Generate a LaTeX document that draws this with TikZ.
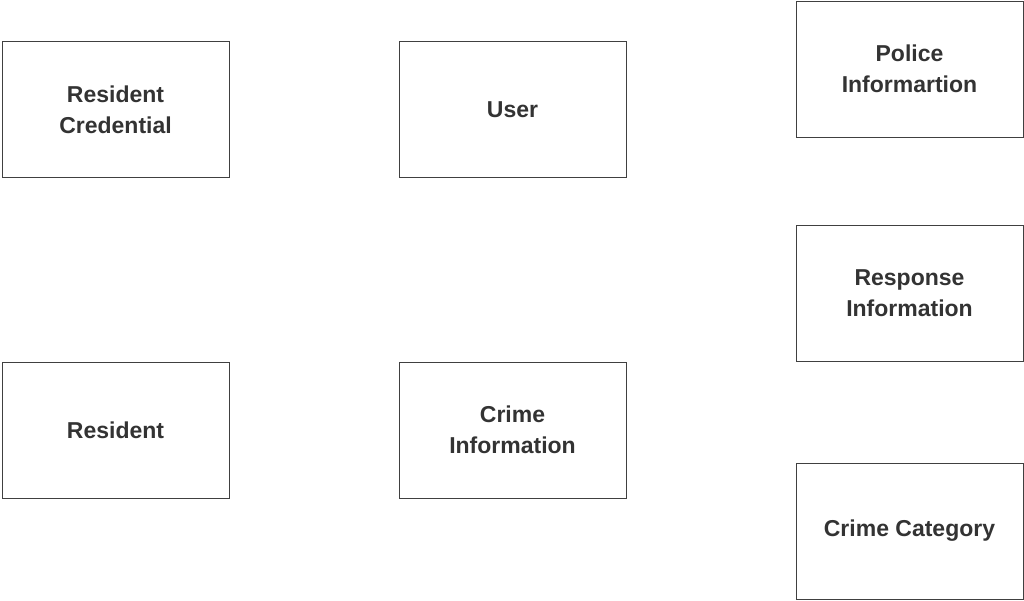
\documentclass[tikz,border=0pt]{standalone}
\usepackage{fontspec}
\setmainfont{Liberation Sans}
\begin{document}
\begin{tikzpicture}[x=1pt,y=-1pt,
  ent/.style={draw=black!75,line width=0.8pt,fill=white,minimum width=227pt,minimum height=136pt,
    inner sep=0pt,align=center,text=black!80,font=\bfseries\fontsize{23}{31}\selectfont}]
\useasboundingbox (0,0) rectangle (1024,601);
\node[ent] (rc) at (115.5,109.5) {Resident\\Credential};
\node[ent] (user) at (512.5,109.5) {User};
\node[ent] (pi) at (909.5,69) {Police\\Informartion};
\node[ent] (ri) at (909.5,293) {Response\\Information};
\node[ent] (res) at (115.5,430) {Resident};
\node[ent] (ci) at (512.5,430) {Crime\\Information};
\node[ent] (cc) at (909.5,531) {Crime Category};
\end{tikzpicture}
\end{document}
